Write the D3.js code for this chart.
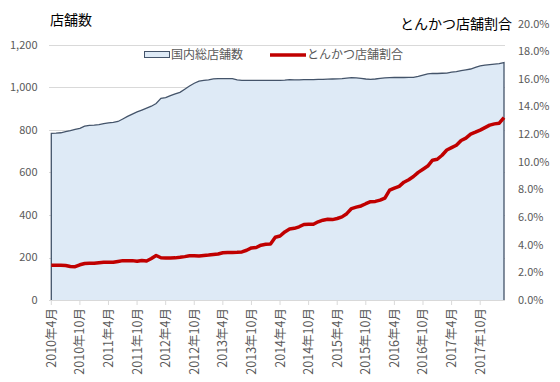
<!DOCTYPE html>
<html><head><meta charset="utf-8">
<script src="https://cdn.jsdelivr.net/npm/d3@7"></script>
<style>body{margin:0;background:#fff} text{font-family:"Noto Sans CJK JP","Noto Sans",sans-serif}</style>
</head><body><svg id="c" width="560" height="382"></svg>
<script>
// Categories: monthly from 2010年4月 to 2018年3月
const months = d3.timeMonth.range(new Date(2010, 3, 1), new Date(2018, 3, 1))
  .map(d => `${d.getFullYear()}年${d.getMonth() + 1}月`);

// 国内総店舗数 (left axis)
const storeCount = [
  784, 785, 787, 792, 797, 803, 808, 818, 822, 823, 825, 830,
  834, 836, 840, 852, 864, 875, 885, 894, 903, 912, 925, 949,
  952, 962, 970, 977, 992, 1007, 1020, 1030, 1034, 1036, 1041, 1042,
  1042, 1042, 1042, 1036, 1034, 1034, 1034, 1034, 1034, 1034, 1034, 1034,
  1034, 1035, 1037, 1036, 1036, 1037, 1037, 1037, 1038, 1038, 1039, 1040,
  1041, 1042, 1044, 1046, 1045, 1043, 1040, 1038, 1040, 1043, 1045, 1046,
  1047, 1047, 1047, 1048, 1048, 1052, 1058, 1064, 1066, 1066, 1067, 1068,
  1072, 1075, 1079, 1083, 1087, 1095, 1102, 1105, 1108, 1110, 1112, 1117
];

// とんかつ店舗割合 (%) (right axis)
const tonkatsuShare = [
  2.51, 2.51, 2.51, 2.50, 2.43, 2.41, 2.55, 2.64, 2.66, 2.66, 2.70, 2.73,
  2.73, 2.73, 2.79, 2.85, 2.85, 2.85, 2.80, 2.86, 2.82, 3.00, 3.22, 3.06,
  3.04, 3.04, 3.05, 3.09, 3.14, 3.20, 3.20, 3.19, 3.22, 3.25, 3.29, 3.33,
  3.42, 3.44, 3.44, 3.45, 3.48, 3.60, 3.77, 3.80, 3.97, 4.03, 4.05, 4.54,
  4.63, 4.93, 5.14, 5.19, 5.30, 5.47, 5.49, 5.48, 5.66, 5.78, 5.84, 5.82,
  5.90, 6.02, 6.25, 6.62, 6.72, 6.81, 6.97, 7.12, 7.14, 7.23, 7.38, 7.95,
  8.10, 8.23, 8.53, 8.71, 8.94, 9.24, 9.47, 9.70, 10.12, 10.19, 10.48, 10.86,
  11.03, 11.20, 11.55, 11.72, 12.01, 12.15, 12.30, 12.48, 12.66, 12.75, 12.80, 13.20
];

const leftTicks = [0, 200, 400, 600, 800, 1000, 1200];
const rightTicks = [0, 2, 4, 6, 8, 10, 12, 14, 16, 18, 20];
const xTickLabels = ["2010年4月","2010年10月","2011年4月","2011年10月","2012年4月","2012年10月",
  "2013年4月","2013年10月","2014年4月","2014年10月","2015年4月","2015年10月",
  "2016年4月","2016年10月","2017年4月","2017年10月"];

const svg = d3.select("#c");
const x = d3.scalePoint().domain(months).range([51.3, 504]);
const yL = d3.scaleLinear().domain([0, 1300]).range([300, 23.75]);
const yR = d3.scaleLinear().domain([0, 20]).range([300, 23.75]);

// gridlines
svg.append("g").selectAll("line").data(leftTicks.filter(v => v > 0)).join("line")
  .attr("x1", 49).attr("x2", 505)
  .attr("y1", d => Math.round(yL(d)) + 0.5).attr("y2", d => Math.round(yL(d)) + 0.5)
  .attr("stroke", "#D9D9D9").attr("stroke-width", 1);

const data = months.map((m, i) => ({m, c: storeCount[i], s: tonkatsuShare[i]}));

// area
svg.append("path").datum(data)
  .attr("d", d3.area().x(d => x(d.m)).y0(yL(0)).y1(d => yL(d.c)))
  .attr("fill", "#DEEAF6");
const first = data[0], last = data[data.length - 1];
const outline = [{m: first.m, c: 0}, ...data, {m: last.m, c: 0}];
svg.append("path").datum(outline)
  .attr("d", d3.line().x(d => x(d.m)).y(d => yL(d.c)))
  .attr("fill", "none").attr("stroke", "#44546A").attr("stroke-width", 1.3);

// x axis
const xa = svg.append("g");
xa.append("line").attr("x1", 49).attr("x2", 505).attr("y1", 300.5).attr("y2", 300.5)
  .attr("stroke", "#D9D9D9");
xa.selectAll("line.t").data(xTickLabels).join("line").attr("class", "t")
  .attr("x1", d => x(d)).attr("x2", d => x(d)).attr("y1", 300.5).attr("y2", 305)
  .attr("stroke", "#D9D9D9");
xa.selectAll("text").data(xTickLabels).join("text")
  .attr("transform", d => `translate(${x(d)},308) rotate(-90)`)
  .attr("text-anchor", "end").attr("dy", "0.36em")
  .attr("font-size", 12.5).attr("fill", "#595959").text(d => d);

// left axis labels
svg.append("g").selectAll("text").data(leftTicks).join("text")
  .attr("x", 37.5).attr("y", d => yL(d)).attr("dy", "0.35em")
  .attr("text-anchor", "end").attr("font-size", 11).attr("fill", "#595959")
  .text(d => d3.format(",")(d));

// right axis labels
svg.append("g").selectAll("text").data(rightTicks).join("text")
  .attr("x", 518).attr("y", d => yR(d)).attr("dy", "0.35em")
  .attr("text-anchor", "start").attr("font-size", 11).attr("fill", "#595959")
  .text(d => d.toFixed(1) + "%");

// red line
svg.append("path").datum(data)
  .attr("d", d3.line().x(d => x(d.m)).y(d => yR(d.s)))
  .attr("fill", "none").attr("stroke", "#C00000").attr("stroke-width", 3.5)
  .attr("stroke-linejoin", "round");

// titles
svg.append("text").attr("x", 50).attr("y", 20).attr("dy", "0.35em")
  .attr("font-size", 14).attr("fill", "#000").text("店舗数");
svg.append("text").attr("x", 512).attr("y", 24).attr("dy", "0.35em")
  .attr("text-anchor", "end").attr("font-size", 14).attr("fill", "#000").text("とんかつ店舗割合");

// legend
const lg = svg.append("g");
lg.append("rect").attr("x", 144.5).attr("y", 51.5).attr("width", 25).attr("height", 6)
  .attr("fill", "#DEEAF6").attr("stroke", "#44546A").attr("stroke-width", 1);
lg.append("text").attr("x", 171).attr("y", 55).attr("dy", "0.35em")
  .attr("font-size", 12).attr("fill", "#595959").text("国内総店舗数");
lg.append("line").attr("x1", 270).attr("x2", 306).attr("y1", 55).attr("y2", 55)
  .attr("stroke", "#C00000").attr("stroke-width", 3.5);
lg.append("text").attr("x", 307).attr("y", 55).attr("dy", "0.35em")
  .attr("font-size", 12).attr("fill", "#595959").text("とんかつ店舗割合");
</script></body></html>
